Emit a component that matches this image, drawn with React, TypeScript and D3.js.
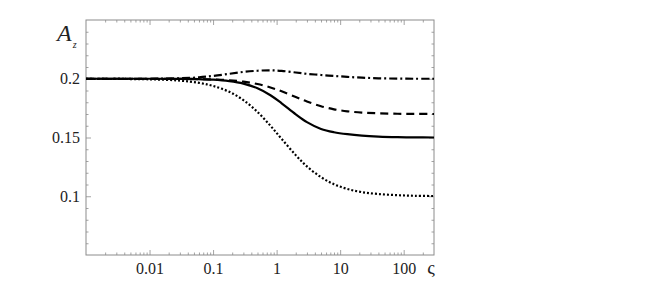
import { useEffect, useRef } from "react";
import * as d3 from "d3";

// sigma (ς) sample points, log spaced
const sigma = [0.001, 0.01, 0.03, 0.06, 0.1, 0.18, 0.3, 0.5, 0.8, 1.2, 2, 3, 5, 8, 13, 22, 40, 80, 150, 300];

const dashDotValues = [0.2, 0.2, 0.2004, 0.2012, 0.2024, 0.2042, 0.2058, 0.2068, 0.2072, 0.2067, 0.2053, 0.2042, 0.2032, 0.2024, 0.2016, 0.2009, 0.2004, 0.2001, 0.2, 0.2];
const dashedValues = [0.2, 0.2, 0.1999, 0.1997, 0.1994, 0.1987, 0.1975, 0.1955, 0.1926, 0.1893, 0.1845, 0.1807, 0.1766, 0.174, 0.1723, 0.1712, 0.1706, 0.1702, 0.1701, 0.17];
const solidValues = [0.2, 0.2, 0.1999, 0.1996, 0.1992, 0.198, 0.1959, 0.1919, 0.186, 0.1791, 0.1697, 0.1631, 0.1573, 0.1545, 0.1528, 0.1516, 0.1508, 0.1503, 0.1501, 0.15];
const dottedValues = [0.2, 0.1995, 0.1984, 0.1965, 0.1939, 0.1889, 0.1818, 0.1718, 0.16, 0.1488, 0.135, 0.1254, 0.1162, 0.1102, 0.1062, 0.1035, 0.1019, 0.1009, 0.1004, 0.1002];

const xMajor = [0.01, 0.1, 1, 10, 100];
const xMajorLabels = ["0.01", "0.1", "1", "10", "100"];
const yMajor = [0.1, 0.15, 0.2];
const yMajorLabels = ["0.1", "0.15", "0.2"];

const W = 654;
const H = 288;
const left = 86;
const right = 434;
const top = 20;
const bottom = 255;

const FRAME = "#8c8c8c";
const TEXT = "#222";
const SERIF = "'Liberation Serif', 'Times New Roman', 'DejaVu Serif', serif";

const series = [
  { values: dashDotValues, dash: "8,3,2,3" },
  { values: dashedValues, dash: "8,5" },
  { values: solidValues, dash: "" },
  { values: dottedValues, dash: "2,2" },
];

export default function App() {
  const ref = useRef<SVGSVGElement>(null);

  useEffect(() => {
    const svg = d3.select(ref.current);
    svg.selectAll("*").remove();

    const x = d3.scaleLog().domain([0.001, 300]).range([left, right]);
    const y = d3.scaleLinear().domain([0.05, 0.25]).range([bottom, top]);

    // minor ticks
    const xMinor: number[] = [];
    for (let e = -3; e <= 2; e++) {
      for (let m = 2; m <= 9; m++) {
        const v = m * Math.pow(10, e);
        if (v < 300) xMinor.push(v);
      }
    }
    const yMinor = d3.range(0.06, 0.25, 0.01).filter((v) => Math.abs(Math.round(v * 20) - v * 20) > 1e-6);

    const styleAxis = (g: any) => {
      g.attr("font-family", null).attr("font-size", null);
      g.select(".domain").remove();
      g.selectAll(".tick line").attr("stroke", FRAME).attr("stroke-width", 0.8);
      g.selectAll(".tick text")
        .attr("fill", TEXT)
        .style("font-family", SERIF)
        .style("font-size", "16px");
    };

    const major = 5;
    const minor = 2.5;

    // bottom
    svg.append("g").attr("transform", `translate(0,${bottom})`)
      .call(d3.axisBottom(x).tickValues(xMinor).tickSize(-minor).tickFormat(() => ""))
      .call(styleAxis);
    svg.append("g").attr("transform", `translate(0,${bottom})`)
      .call(d3.axisBottom(x).tickValues(xMajor).tickSize(-major).tickPadding(8)
        .tickFormat((d, i) => xMajorLabels[i]))
      .call(styleAxis);
    // top
    svg.append("g").attr("transform", `translate(0,${top})`)
      .call(d3.axisTop(x).tickValues(xMinor).tickSize(-minor).tickFormat(() => ""))
      .call(styleAxis);
    svg.append("g").attr("transform", `translate(0,${top})`)
      .call(d3.axisTop(x).tickValues(xMajor).tickSize(-major).tickFormat(() => ""))
      .call(styleAxis);
    // left
    svg.append("g").attr("transform", `translate(${left},0)`)
      .call(d3.axisLeft(y).tickValues(yMinor).tickSize(-minor).tickFormat(() => ""))
      .call(styleAxis);
    svg.append("g").attr("transform", `translate(${left},0)`)
      .call(d3.axisLeft(y).tickValues(yMajor).tickSize(-major).tickPadding(6)
        .tickFormat((d, i) => yMajorLabels[i]))
      .call(styleAxis);
    // right
    svg.append("g").attr("transform", `translate(${right},0)`)
      .call(d3.axisRight(y).tickValues(yMinor).tickSize(-minor).tickFormat(() => ""))
      .call(styleAxis);
    svg.append("g").attr("transform", `translate(${right},0)`)
      .call(d3.axisRight(y).tickValues(yMajor).tickSize(-major).tickFormat(() => ""))
      .call(styleAxis);

    // frame
    svg.append("rect")
      .attr("x", left).attr("y", top)
      .attr("width", right - left).attr("height", bottom - top)
      .attr("fill", "none").attr("stroke", FRAME).attr("stroke-width", 1);

    // curves
    const line = d3.line<number>()
      .x((d, i) => x(sigma[i]))
      .y((d) => y(d))
      .curve(d3.curveCatmullRom.alpha(0.5));

    svg.append("g")
      .selectAll("path")
      .data(series)
      .join("path")
      .attr("d", (s) => line(s.values))
      .attr("fill", "none")
      .attr("stroke", "#000")
      .attr("stroke-width", 2.2)
      .attr("stroke-dasharray", (s) => s.dash || null);

    // axis labels
    const aLabel = svg.append("text")
      .attr("x", 57).attr("y", 41)
      .attr("fill", TEXT)
      .style("font-family", SERIF);
    aLabel.append("tspan").style("font-size", "24px").style("font-style", "italic").text("A");
    aLabel.append("tspan").style("font-size", "10px").style("font-style", "italic").attr("dx", 1).attr("dy", 7).text("z");

    svg.append("text")
      .attr("x", 431).attr("y", 274)
      .attr("text-anchor", "middle")
      .attr("fill", TEXT)
      .style("font-size", "19px")
      .style("font-family", SERIF)
      .text("ς");
  }, []);

  return (
    <svg
      ref={ref}
      width={W}
      height={H}
      style={{ position: "absolute", left: 0, top: 0, background: "#fff" }}
    />
  );
}
